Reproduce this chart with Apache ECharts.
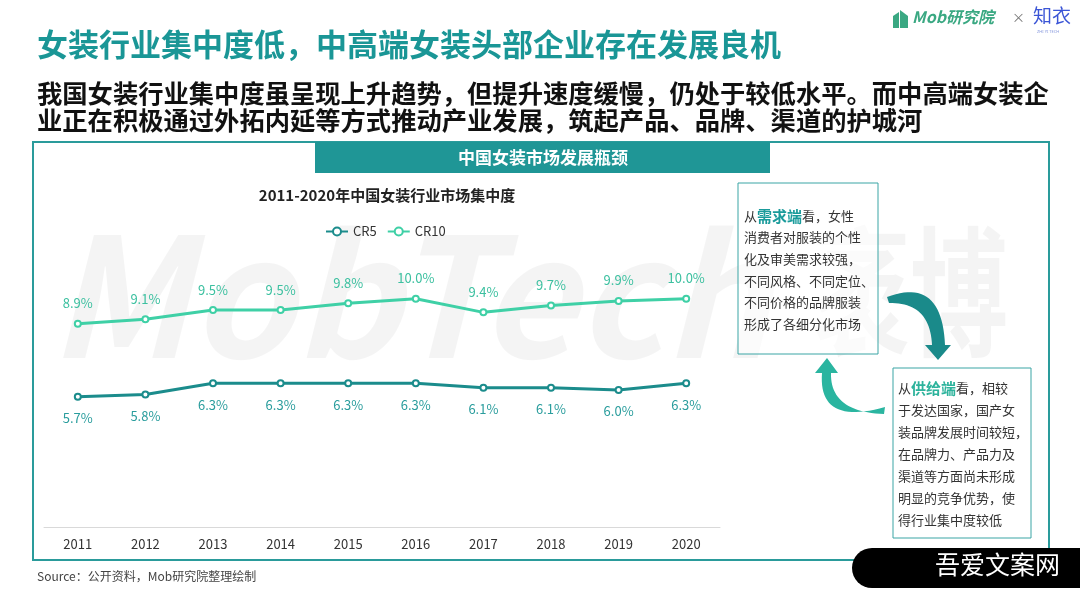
<!DOCTYPE html>
<html><head><meta charset="utf-8">
<script src="https://cdn.jsdelivr.net/npm/echarts@6/dist/echarts.min.js"></script>
<style>html,body{margin:0;padding:0;background:#fff}#c{width:1080px;height:608px}</style>
</head><body><div id="c"></div>
<script>
const years = ['2011','2012','2013','2014','2015','2016','2017','2018','2019','2020'];
const cr5 = [5.7,5.8,6.3,6.3,6.3,6.3,6.1,6.1,6.0,6.3];
const cr10 = [8.9,9.1,9.5,9.5,9.8,10.0,9.4,9.7,9.9,10.0];
const seriesNames = ['CR5','CR10'];

const F = "'Noto Sans CJK SC','Noto Sans',sans-serif";
const TEAL = '#1a9696';
const C5 = '#1b8c8c';
const C10 = '#3fd0a6';

// decorative curved arrow: outer/inner quadratic curves -> polygon
function qpts(p0, c, p1, n){
  const out=[];
  for(let i=0;i<=n;i++){const t=i/n,u=1-t;
    out.push([u*u*p0[0]+2*u*t*c[0]+t*t*p1[0], u*u*p0[1]+2*u*t*c[1]+t*t*p1[1]]);}
  return out;
}
const arrow1 = [].concat(
  qpts([887,297],[942,276],[945,345],24),
  [[951,345],[938,360],[925,345],[932,345]],
  qpts([932,345],[930,302],[889,303],24)
);
const arrow2 = [].concat(
  qpts([885,407],[818,426],[822,373],24),
  [[815,373],[827,358],[838,373],[831,373]],
  qpts([831,373],[830,412],[884,414],24)
);

function txt(x,y,text,font,fill,extra,z){
  return {type:'text', x:x, y:y, z:z||5, style:Object.assign({text:text, font:font, fill:fill, textVerticalAlign:'top'}, extra||{})};
}

const chart = echarts.init(document.getElementById('c'), null, {renderer:'canvas'});
chart.setOption({
  backgroundColor:'#fff',
  animation:false,
  textStyle:{fontFamily:F},
  title:{
    text:'2011-2020年中国女装行业市场集中度',
    left:382, top:183, textAlign:'center',
    textStyle:{fontSize:15, fontWeight:'bold', color:'#222', fontFamily:F}
  },
  legend:{
    data:seriesNames, left:320, top:220,
    itemWidth:22, itemHeight:10, itemGap:10,
    textStyle:{fontSize:13, color:'#333', fontFamily:F}
  },
  grid:{left:44, right:360, top:253, bottom:81},
  xAxis:{
    type:'category', data:years, boundaryGap:true,
    axisLine:{lineStyle:{color:'#d9d9d9'}},
    axisTick:{show:false},
    axisLabel:{fontSize:13, color:'#333', margin:11, fontFamily:F}
  },
  yAxis:{type:'value', min:0, max:12, show:false, splitLine:{show:false}},
  series:[
    {name:'CR5', type:'line', data:cr5, symbol:'emptyCircle', symbolSize:6,
     lineStyle:{width:3, color:C5}, itemStyle:{color:C5, borderWidth:1.2},
     label:{show:true, position:'bottom', distance:11, fontSize:13, color:'#2a9d9d',
            formatter:p=>p.value.toFixed(1)+'%'}},
    {name:'CR10', type:'line', data:cr10, symbol:'emptyCircle', symbolSize:6,
     lineStyle:{width:3, color:C10}, itemStyle:{color:C10, borderWidth:1.2},
     label:{show:true, position:'top', distance:10, fontSize:13, color:'#3cc0a0',
            formatter:p=>p.value.toFixed(1)+'%'}}
  ],
  graphic:[
    // watermark
    {type:'text', x:48, y:212, z:-10, silent:true,
     style:{text:'MobTech', font:"italic bold 166px 'Noto Sans CJK SC',sans-serif", fill:'rgba(0,0,0,0.045)', textVerticalAlign:'top'}},
    {type:'text', x:812, y:222, z:-10, silent:true, scaleX:0.7,
     style:{text:'袤博', font:"bold 140px 'Noto Sans CJK SC',sans-serif", fill:'rgba(0,0,0,0.045)', textVerticalAlign:'top'}},
    // logo
    {type:'polygon', z:5, shape:{points:[[893,28],[893,16],[899,12],[899,28]]}, style:{fill:'#3aa882'}},
    {type:'polygon', z:5, shape:{points:[[900,28],[900,10],[908,16],[908,28]]}, style:{fill:'#3aa882'}},
    txt(912,9,'Mob研究院',"italic bold 16px 'Noto Sans CJK SC',sans-serif",'#3aa882'),
    txt(1012,11,'×',"13px 'Noto Sans CJK SC',sans-serif",'#777'),
    txt(1033,6,'知衣',"19px 'Noto Sans CJK SC',sans-serif",'#3b55d6'),
    txt(1037,30,'ZHI YI TECH',"4px 'Noto Sans',sans-serif",'#8899dd'),
    // heading
    txt(37,29,'女装行业集中度低，中高端女装头部企业存在发展良机',"bold 31px 'Noto Sans CJK SC',sans-serif",TEAL),
    txt(37,80,'我国女装行业集中度虽呈现上升趋势，但提升速度缓慢，仍处于较低水平。而中高端女装企\n业正在积极通过外拓内延等方式推动产业发展，筑起产品、品牌、渠道的护城河',"bold 25.3px 'Noto Sans CJK SC',sans-serif",'#111',{lineHeight:27}),
    // outer frame
    {type:'rect', z:1, shape:{x:33, y:142, width:1016, height:418}, style:{fill:'none', stroke:'#2a9b9b', lineWidth:2}},
    {type:'rect', z:2, shape:{x:315, y:142, width:455, height:31}, style:{fill:'#1f9696'}},
    {type:'text', z:3, x:543, y:158, style:{text:'中国女装市场发展瓶颈', textAlign:'center', textVerticalAlign:'middle', font:"bold 17px 'Noto Sans CJK SC',sans-serif", fill:'#fff'}},
    // boxes
    {type:'rect', z:2, shape:{x:738, y:183, width:140, height:171}, style:{fill:'rgba(255,255,255,0.6)', stroke:'#3aa5a5', lineWidth:1}},
    txt(744,205,'从{a|需求端}看，女性\n消费者对服装的个性\n化及审美需求较强，\n不同风格、不同定位、\n不同价格的品牌服装\n形成了各细分化市场',
      "13px 'Noto Sans CJK SC',sans-serif",'#333',
      {lineHeight:21.6, rich:{a:{fontSize:15, fontWeight:'bold', fill:'#1a9b9b', fontFamily:F, lineHeight:21.6}}}),
    {type:'rect', z:2, shape:{x:893, y:368, width:138, height:170}, style:{fill:'rgba(255,255,255,0.6)', stroke:'#3aa5a5', lineWidth:1}},
    txt(898,377,'从{a|供给端}看，相较\n于发达国家，国产女\n装品牌发展时间较短，\n在品牌力、产品力及\n渠道等方面尚未形成\n明显的竞争优势，使\n得行业集中度较低',
      "13px 'Noto Sans CJK SC',sans-serif",'#333',
      {lineHeight:22, rich:{a:{fontSize:15, fontWeight:'bold', fill:'#2db39c', fontFamily:F, lineHeight:22}}}),
    // arrows
    {type:'polygon', z:4, shape:{points:arrow1}, style:{fill:'#1a8a8a'}},
    {type:'polygon', z:4, shape:{points:arrow2}, style:{fill:'#2ab5a0'}},
    // source
    txt(37,570,'Source：公开资料，Mob研究院整理绘制',"12px 'Noto Sans CJK SC',sans-serif",'#444'),
    // badge
    {type:'rect', z:6, shape:{x:852, y:548, width:240, height:40, r:[20,0,0,20]}, style:{fill:'#000'}},
    txt(935,552,'吾爱文案网',"25px 'Noto Sans CJK SC',sans-serif",'#fff',{},8)
  ]
});
</script></body></html>
